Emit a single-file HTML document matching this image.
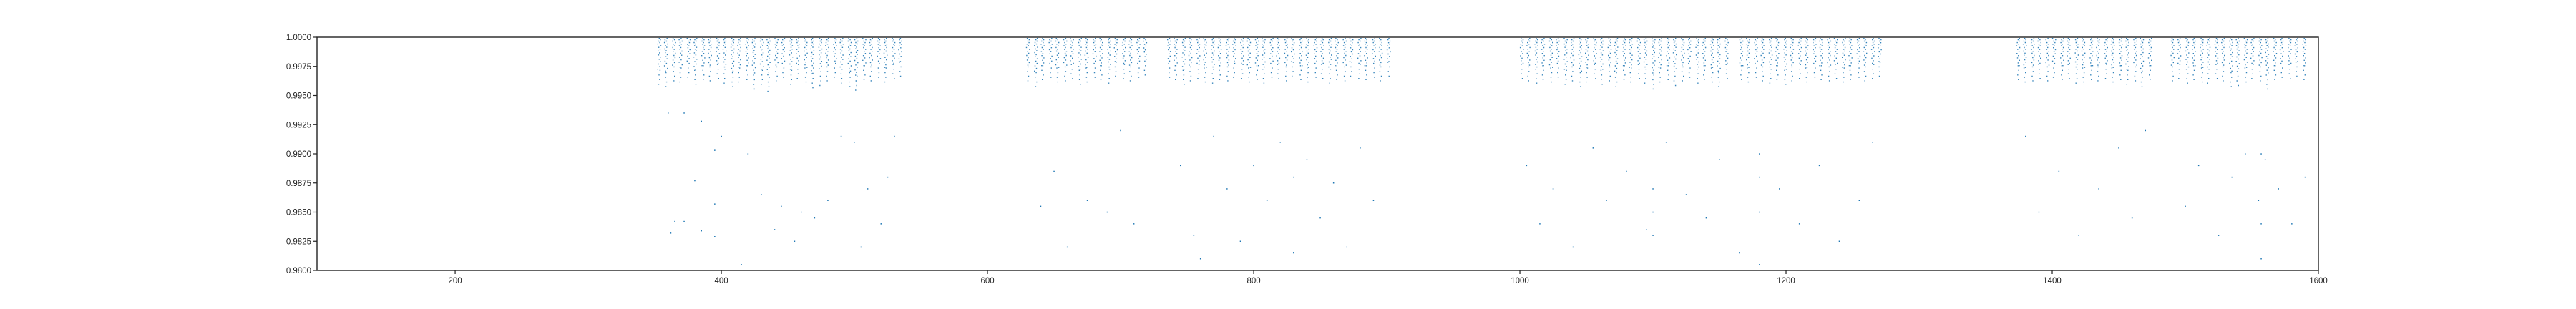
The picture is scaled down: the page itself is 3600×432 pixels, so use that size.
<!DOCTYPE html>
<html><head><meta charset="utf-8"><style>
html,body{margin:0;padding:0;background:#fff;}
svg{display:block;font-family:"Liberation Sans","DejaVu Sans",sans-serif;}
</style></head><body>
<svg id="chart" width="3600" height="432" viewBox="0 0 3600 432" xmlns="http://www.w3.org/2000/svg">
<rect x="0" y="0" width="3600" height="432" fill="#fff"/>
<g id="marks"></g>
<g id="axes"></g>
</svg>
<script>
const xTicks = [200,400,600,800,1000,1200,1400,1600];
const yTicks = [0.9800,0.9825,0.9850,0.9875,0.9900,0.9925,0.9950,0.9975,1.0000];
const streakX = [353,358,364,369,375,380,386,391,397,402,408,413,419,424,430,435,441,446,452,457,463,468,474,479,485,490,496,501,507,512,518,523,529,534,
630,636,641,647,652,658,663,669,674,680,685,691,696,702,707,713,718,
736,741,747,752,758,763,769,774,780,785,791,796,802,807,813,818,824,829,835,840,846,851,857,862,868,873,879,884,890,895,901,
1001,1006,1012,1017,1023,1028,1034,1039,1045,1050,1056,1061,1067,1072,1078,1083,1089,1094,1100,1105,1111,1116,1122,1127,1133,1138,1144,1149,1155,1166,1171,1177,1182,1188,1193,1199,1204,1210,1215,1221,1226,1232,1237,1243,1248,1254,1259,1265,1270,
1374,1379,1385,1390,1396,1401,1407,1412,1418,1423,1429,1434,1440,1445,1451,1456,1462,1467,1473,1490,1495,1501,1506,1512,1517,1523,1528,1534,1539,1545,1550,1556,1561,1567,1572,1578,1583,1589];
const streakDepth = [0.9972,0.9970,0.9975,0.9974,0.9978,0.9972,0.9976,0.9975,0.9977,0.9973,0.9970,0.9974,0.9976,0.9968,0.9972,0.9966,0.9975,0.9978,0.9972,0.9977,0.9974,0.9969,0.9971,0.9975,0.9978,0.9973,0.9970,0.9967,0.9976,0.9975,0.9978,0.9974,0.9977,0.9979,
0.9975,0.9970,0.9976,0.9978,0.9974,0.9975,0.9977,0.9972,0.9974,0.9978,0.9976,0.9973,0.9979,0.9977,0.9975,0.9978,0.9980,
0.9978,0.9976,0.9972,0.9975,0.9977,0.9974,0.9973,0.9976,0.9975,0.9978,0.9977,0.9974,0.9976,0.9973,0.9978,0.9977,0.9975,0.9979,0.9976,0.9974,0.9978,0.9977,0.9973,0.9976,0.9975,0.9979,0.9977,0.9976,0.9978,0.9975,0.9979,
0.9977,0.9975,0.9973,0.9976,0.9974,0.9978,0.9972,0.9975,0.9970,0.9974,0.9977,0.9972,0.9975,0.9970,0.9976,0.9974,0.9977,0.9973,0.9968,0.9974,0.9976,0.9971,0.9975,0.9978,0.9973,0.9976,0.9974,0.9970,0.9977,0.9976,0.9974,0.9978,0.9975,0.9973,0.9976,0.9972,0.9975,0.9977,0.9974,0.9978,0.9976,0.9975,0.9977,0.9974,0.9976,0.9978,0.9975,0.9977,0.9979,
0.9976,0.9974,0.9975,0.9977,0.9975,0.9978,0.9976,0.9977,0.9973,0.9974,0.9976,0.9975,0.9977,0.9974,0.9976,0.9972,0.9975,0.9970,0.9976,0.9975,0.9977,0.9973,0.9976,0.9974,0.9973,0.9977,0.9975,0.9970,0.9971,0.9974,0.9977,0.9975,0.9968,0.9976,0.9978,0.9977,0.9979,0.9976];
const outlierX = [360,372,385,400,395,380,395,365,372,385,362,395,420,430,445,460,470,480,490,500,510,520,530,440,455,505,525,415,
640,650,660,675,690,700,710,745,755,770,780,790,800,810,820,830,840,850,860,870,880,890,760,830,
1005,1015,1025,1040,1055,1065,1080,1095,1100,1100,1100,1110,1125,1140,1150,1165,1180,1180,1180,1180,1195,1210,1225,1240,1255,1265,
1380,1390,1405,1420,1435,1450,1460,1470,1500,1510,1525,1535,1545,1555,1557,1557,1557,1570,1580,1590,1560];
const outlierY = [0.9935,0.9935,0.9928,0.9915,0.9903,0.9877,0.9857,0.9842,0.9842,0.9834,0.9832,0.9829,0.9900,0.9865,0.9855,0.9850,0.9845,0.9860,0.9915,0.9910,0.9870,0.9840,0.9915,0.9835,0.9825,0.9820,0.9880,0.9805,
0.9855,0.9885,0.9820,0.9860,0.9850,0.9920,0.9840,0.9890,0.9830,0.9915,0.9870,0.9825,0.9890,0.9860,0.9910,0.9880,0.9895,0.9845,0.9875,0.9820,0.9905,0.9860,0.9810,0.9815,
0.9890,0.9840,0.9870,0.9820,0.9905,0.9860,0.9885,0.9835,0.9870,0.9850,0.9830,0.9910,0.9865,0.9845,0.9895,0.9815,0.9900,0.9880,0.9850,0.9805,0.9870,0.9840,0.9890,0.9825,0.9860,0.9910,
0.9915,0.9850,0.9885,0.9830,0.9870,0.9905,0.9845,0.9920,0.9855,0.9890,0.9830,0.9880,0.9900,0.9860,0.9900,0.9840,0.9810,0.9870,0.9840,0.9880,0.9895];

const L=443,R=3240,T=52,B=378, XMIN=96.2, XMAX=1600, YMIN=0.98, YMAX=1.0;
const xs = v => L + (v-XMIN)/(XMAX-XMIN)*(R-L);
const ys = v => B - (v-YMIN)/(YMAX-YMIN)*(B-T);
const NS='http://www.w3.org/2000/svg';
const marks=document.getElementById('marks');
const axes=document.getElementById('axes');
const C='#1f77b4';
const jit=[0,1.6,-1.2,0.8,-2,2.2,-0.6,1.2,-1.6,0.4,-0.9,1.9];

streakX.forEach((sx,i)=>{
  const g=document.createElementNS(NS,'g');
  
  
  const cx=xs(sx), y0=ys(1.0), yd=ys(streakDepth[i]), yt=ys(streakDepth[i]-0.0015);
  let d='', k=0;
  for(let y=y0+1;y<yd;){ const j=jit[(k+i)%jit.length]; d+=`M${(cx+j).toFixed(1)} ${y.toFixed(1)}h1.4v1.4h-1.4z`; k++; y+=1.8+(y-y0)/(yd-y0)*2.2; }
  for(let y=yd;y<yt;y+=6.5){ const j=jit[(k+i*3)%jit.length]*0.5; d+=`M${(cx+j).toFixed(1)} ${y.toFixed(1)}h1.4v1.4h-1.4z`; k++; }
  const p=document.createElementNS(NS,'path');
  p.setAttribute('d',d); p.setAttribute('fill',C); p.setAttribute('fill-opacity','0.9');
  g.appendChild(p); marks.appendChild(g);
});
outlierX.forEach((ox,i)=>{
  const r=document.createElementNS(NS,'rect');
  
  
  r.setAttribute('x',(xs(ox)-0.7).toFixed(1)); r.setAttribute('y',(ys(outlierY[i])-0.7).toFixed(1));
  r.setAttribute('width','1.5'); r.setAttribute('height','1.5'); r.setAttribute('fill',C);
  marks.appendChild(r);
});

const frame=document.createElementNS(NS,'rect');


frame.setAttribute('x',L); frame.setAttribute('y',T); frame.setAttribute('width',R-L); frame.setAttribute('height',B-T);
frame.setAttribute('fill','none'); frame.setAttribute('stroke','#222'); frame.setAttribute('stroke-width','1.4');
axes.appendChild(frame);

xTicks.forEach(t=>{
  const x=xs(t);
  const ln=document.createElementNS(NS,'line');
  
  
  ln.setAttribute('x1',x);ln.setAttribute('x2',x);ln.setAttribute('y1',B);ln.setAttribute('y2',B+5);
  ln.setAttribute('stroke','#222');ln.setAttribute('stroke-width','1.2');axes.appendChild(ln);
  const tx=document.createElementNS(NS,'text');
  
  
  tx.setAttribute('x',x);tx.setAttribute('y',B+18);tx.setAttribute('text-anchor','middle');
  tx.setAttribute('font-size','11.5');tx.setAttribute('fill','#222');tx.textContent=String(t);axes.appendChild(tx);
});
yTicks.forEach(t=>{
  const y=ys(t);
  const ln=document.createElementNS(NS,'line');
  
  
  ln.setAttribute('x1',L-5);ln.setAttribute('x2',L);ln.setAttribute('y1',y);ln.setAttribute('y2',y);
  ln.setAttribute('stroke','#222');ln.setAttribute('stroke-width','1.2');axes.appendChild(ln);
  const tx=document.createElementNS(NS,'text');
  
  
  tx.setAttribute('x',L-8);tx.setAttribute('y',y+4);tx.setAttribute('text-anchor','end');
  tx.setAttribute('font-size','11.5');tx.setAttribute('fill','#222');tx.textContent=t.toFixed(4);axes.appendChild(tx);
});
</script>
</body></html>
